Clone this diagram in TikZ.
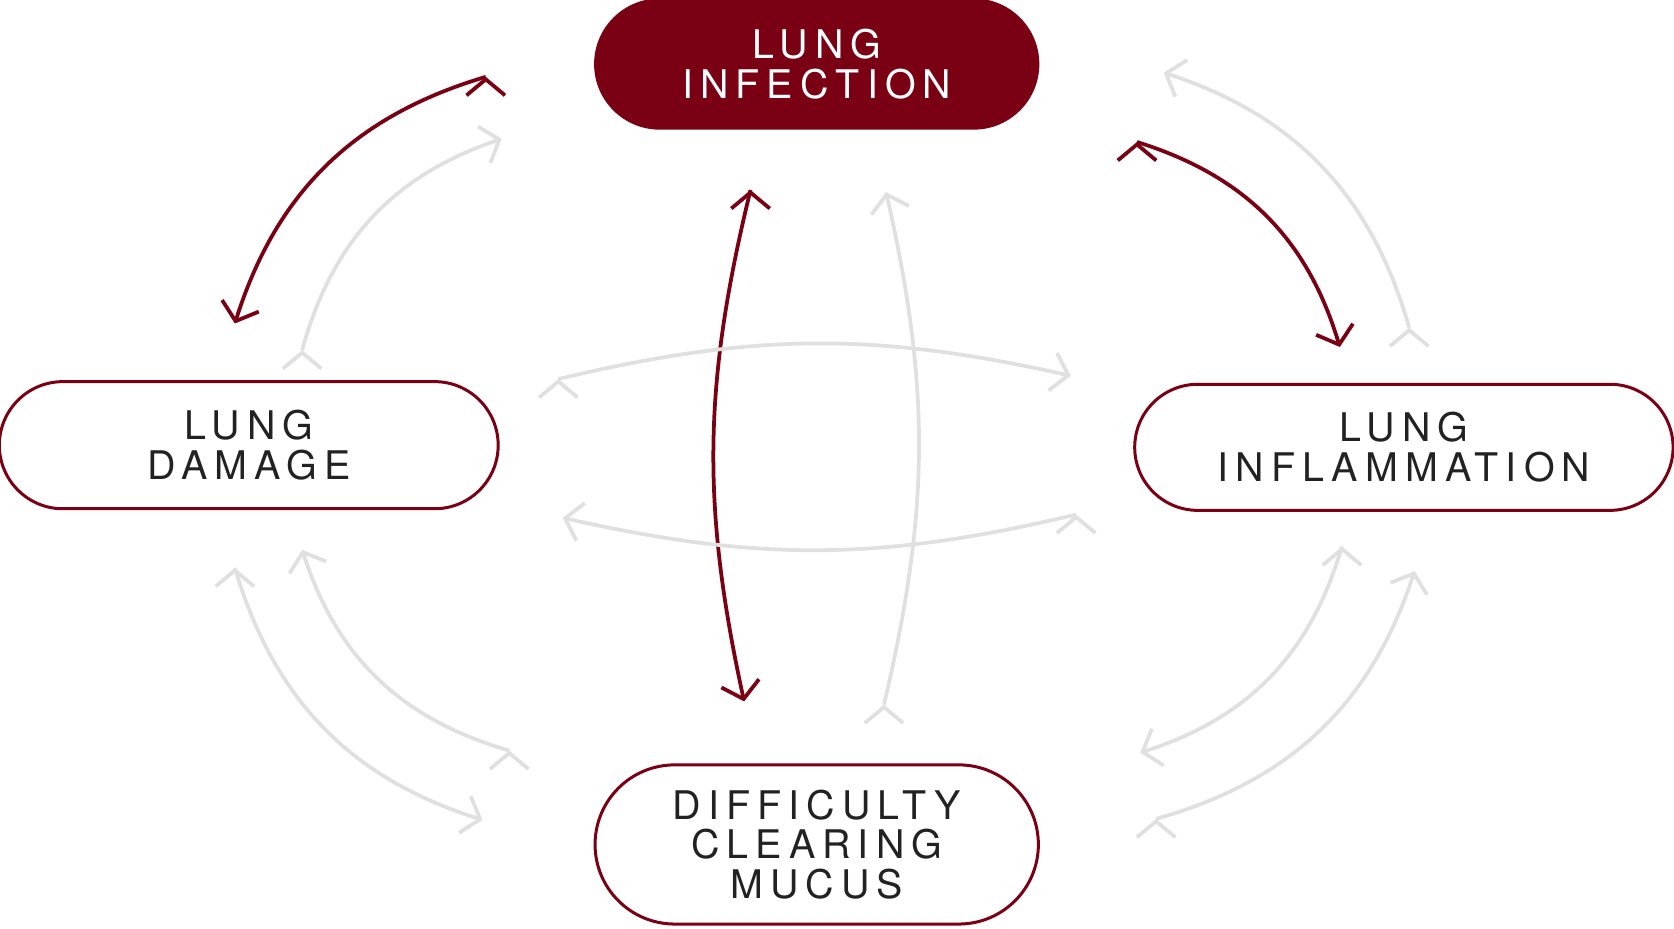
\documentclass[tikz,border=0pt]{standalone}
\usepackage{fontspec}
\setmainfont{TeX Gyre Heros}[LetterSpace=18]
\usetikzlibrary{arrows.meta,positioning}
\definecolor{wine}{HTML}{7A0013}
\definecolor{ink}{HTML}{222222}
\definecolor{pale}{HTML}{E0E0E0}
\begin{document}
\begin{tikzpicture}[x=0.01cm,y=0.01cm,font=\fontsize{10.5}{10.5}\selectfont]
   \tikzstyle{box}=[draw=wine, line width=0.8pt, text=ink, align=center, inner sep=0pt]
   \tikzstyle{red}=[draw=wine, line width=1pt, -{Straight Barb[length=0.15cm,width=0.36cm,line width=1pt]}]
   \tikzstyle{grey}=[draw=pale, line width=1pt, -{Straight Barb[length=0.15cm,width=0.36cm,line width=1pt]}]
   \useasboundingbox (0,0) rectangle (1568,-870);
   \node[box,fill=wine,text=white,minimum width=4.14cm,minimum height=1.2cm,rounded corners=0.6cm] (infection) at (765,-60) {LUNG\\INFECTION};
   \node[box,minimum width=4.67cm,minimum height=1.19cm,rounded corners=0.595cm] (damage) at (233,-417) {LUNG\\DAMAGE};
   \node[box,minimum width=5.04cm,minimum height=1.18cm,rounded corners=0.59cm] (inflammation) at (1315,-419) {LUNG\\INFLAMMATION};
   \node[box,minimum width=4.15cm,minimum height=1.49cm,rounded corners=0.745cm] (mucus) at (765,-791) {DIFFICULTY\\CLEARING\\MUCUS};
   % red paths
   \coordinate (r1a) at (455,-72);   \coordinate (r1b) at (220,-303);
   \coordinate (r2a) at (1065,-133); \coordinate (r2b) at (1255,-325);
   \coordinate (r3a) at (703,-178);  \coordinate (r3b) at (697,-657);
   \path[red] (r1a) edge[bend right=28] (r1b);
   \path[red] (r2a) edge[bend left=28] (r2b);
   \path[red] (r3a) edge[bend right=13] (r3b);
   % grey paths
   \foreach \n/\ax/\ay/\bx/\by/\b in {1/283/-328/470/-130/left,
        2/1320/-307/1090/-68/right,
        3/828/-660/830/-180/right,
        4/523/-355/1003/-352/left,
        5/1008/-482/527/-485/left,
        6/220/-532/452/-768/right,
        7/477/-703/283/-515/left,
        8/1257/-512/1068/-705/left,
        9/1083/-767/1325/-535/right} {
       \coordinate (g\n a) at (\ax,\ay);
       \coordinate (g\n b) at (\bx,\by);
   }
   \path[grey] (g1a) edge[bend left=28] (g1b);
   \path[grey] (g2a) edge[bend right=28] (g2b);
   \path[grey] (g3a) edge[bend right=13] (g3b);
   \path[grey] (g4a) edge[bend left=13] (g4b);
   \path[grey] (g5a) edge[bend left=13] (g5b);
   \path[grey] (g6a) edge[bend right=28] (g6b);
   \path[grey] (g7a) edge[bend left=28] (g7b);
   \path[grey] (g8a) edge[bend left=28] (g8b);
   \path[grey] (g9a) edge[bend right=28] (g9b);
\end{tikzpicture}
\end{document}
